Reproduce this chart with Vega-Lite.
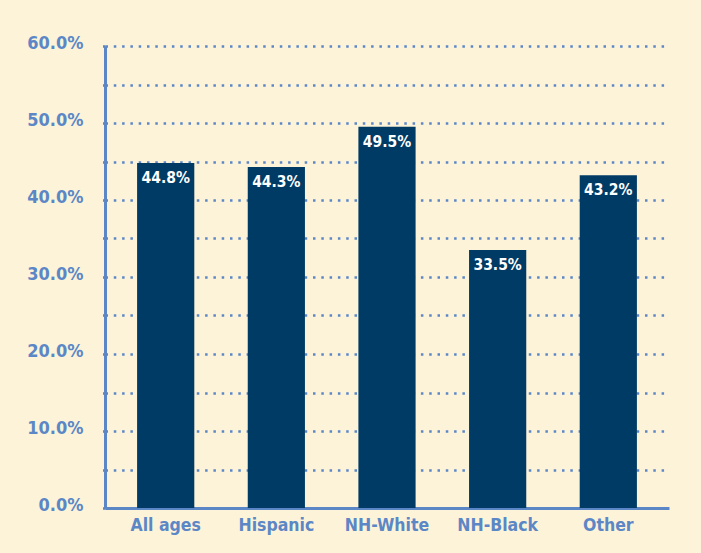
{
  "$schema": "https://vega.github.io/schema/vega-lite/v6.json",
  "autosize": {"type": "none"},
  "padding": {"left": 105, "top": 46, "right": 32, "bottom": 45},
  "width": 564,
  "height": 462,
  "background": "#fdf3d9",
  "config": {
    "view": {"stroke": null},
    "font": "DejaVu Sans Condensed, DejaVu Sans"
  },
  "data": {
    "values": [
      {"group": "All ages", "pct": 44.8},
      {"group": "Hispanic", "pct": 44.3},
      {"group": "NH-White", "pct": 49.5},
      {"group": "NH-Black", "pct": 33.5},
      {"group": "Other", "pct": 43.2}
    ]
  },
  "encoding": {
    "x": {
      "field": "group",
      "type": "nominal",
      "sort": null,
      "scale": {"paddingInner": 0.483, "paddingOuter": 0.29},
      "axis": {
        "title": null,
        "labelAngle": 0,
        "labelFont": "DejaVu Sans Condensed, DejaVu Sans",
        "labelFontWeight": "bold",
        "labelFontSize": 17.5,
        "labelColor": "#5b87c6",
        "labelPadding": 8,
        "ticks": false,
        "domainColor": "#5b87c6",
        "domainWidth": 3,
        "grid": false
      }
    },
    "y": {
      "field": "pct",
      "type": "quantitative",
      "scale": {"domain": [0, 60], "nice": false},
      "axis": {
        "title": null,
        "values": [0, 5, 10, 15, 20, 25, 30, 35, 40, 45, 50, 55, 60],
        "labelExpr": "datum.value % 10 == 0 ? format(datum.value, '.1f') + '%' : ''",
        "labelFont": "DejaVu Sans Condensed, DejaVu Sans",
        "labelFontWeight": "bold",
        "labelFontSize": 18,
        "labelColor": "#5b87c6",
        "labelPadding": 14,
        "labelOffset": -3,
        "tickSize": 8,
        "tickColor": "#5b87c6",
        "tickWidth": 2.6,
        "tickDash": [2.5, 5.8],
        "domainColor": "#5b87c6",
        "domainWidth": 3,
        "grid": true,
        "gridColor": "#5b87c6",
        "gridWidth": 2.6,
        "gridDash": [2.5, 5.8],
        "gridOpacity": 1
      }
    }
  },
  "layer": [
    {
      "mark": {"type": "bar", "color": "#003b66"}
    },
    {
      "mark": {
        "type": "text",
        "baseline": "top",
        "dy": 8,
        "color": "#ffffff",
        "font": "DejaVu Sans Condensed, DejaVu Sans",
        "fontWeight": "bold",
        "fontSize": 15.5
      },
      "encoding": {
        "text": {"field": "label", "type": "nominal"}
      },
      "transform": [
        {"calculate": "format(datum.pct, '.1f') + '%'", "as": "label"}
      ]
    }
  ]
}
